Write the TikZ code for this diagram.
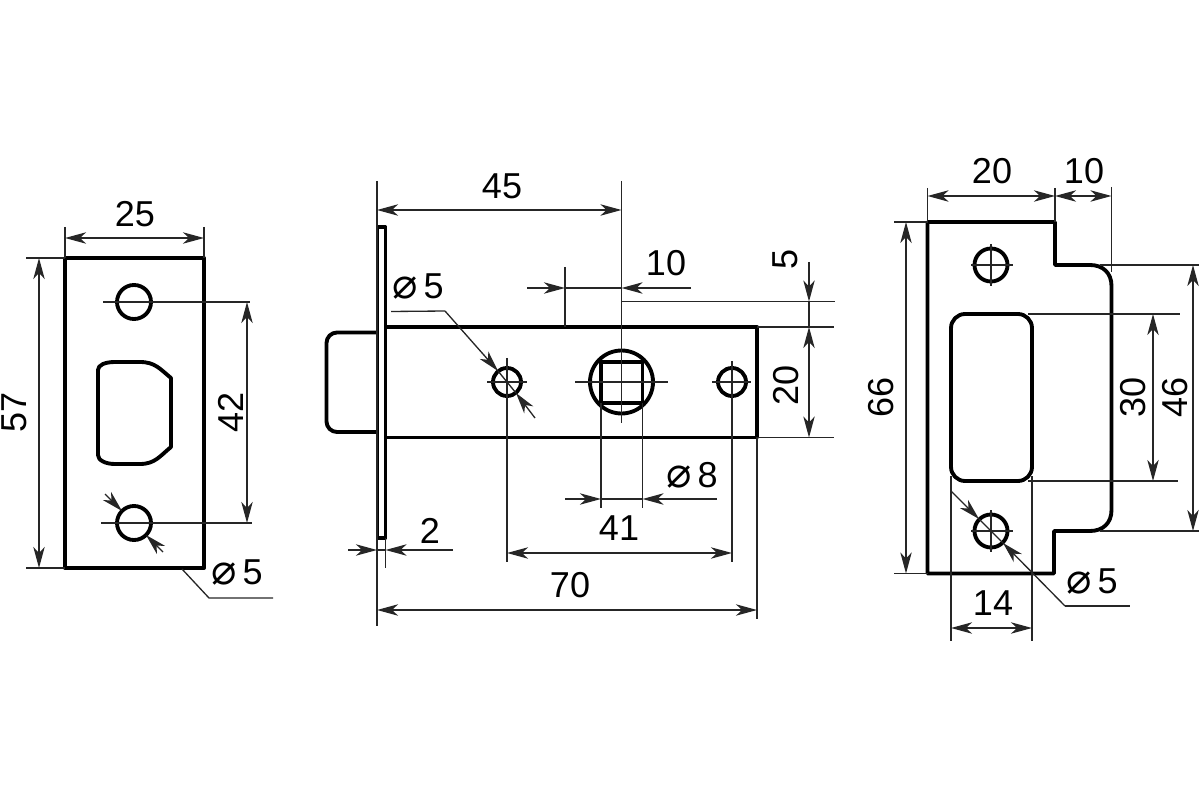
\documentclass[tikz,border=0pt]{standalone}
\usepackage{fontspec}
\setmainfont{Liberation Sans}
\newfontfamily\symfont{DejaVu Sans}
\usetikzlibrary{arrows.meta}
\newcommand{\dia}{{\fontsize{24}{24}\symfont\char"2300}}
\tikzset{
    outline/.style={black, line width=2.2pt, line join=round},
    thinline/.style={black!85, line width=0.75pt},
    dimline/.style={thinline, {Stealth[length=12pt,width=6.5pt,inset=3.5pt]}-{Stealth[length=12pt,width=6.5pt,inset=3.5pt]}},
    arrowline/.style={thinline, -{Stealth[length=12pt,width=6.5pt,inset=3.5pt]}},
    dimtext/.style={inner sep=0pt, font=\fontsize{20.5}{21}\selectfont},
    sidetext/.style={dimtext, rotate=90}
}
\begin{document}
\begin{tikzpicture}[x=0.02cm, y=-0.02cm]
    \useasboundingbox (0,0) rectangle (1200,800);
    % left plate
    \draw [outline] (65,258) rectangle (204,568);
    \draw [outline] (134,302) circle (17);
    \draw [outline] (134,523) circle (17);
    \draw [outline] (98,370) .. controls (98,365) and (105,362) .. (115,362) -- (140,362)
        .. controls (155,362) and (160,369) .. (171,378) -- (171,447)
        .. controls (160,456) and (155,464) .. (140,464) -- (115,464)
        .. controls (105,464) and (98,460) .. (98,455) -- cycle;
    \draw [thinline] (65,227) -- (65,258);
    \draw [thinline] (204,227) -- (204,258);
    \draw [dimline] (65,238) -- (204,238);
    \node [dimtext] (plateW) at (135,214) {25};
    \draw [thinline] (26,258) -- (65,258);
    \draw [thinline] (26,568) -- (65,568);
    \draw [dimline] (39,258) -- (39,568);
    \node [sidetext] (plateH) at (14,412) {57};
    \draw [thinline] (103,302) -- (250,302);
    \draw [thinline] (101,523) -- (252,523);
    \draw [dimline] (247,302) -- (247,523);
    \node [sidetext] (plateHoles) at (231,412) {42};
    \draw [arrowline] (105,494) -- (122,511);
    \draw [arrowline] (163,552) -- (146,535);
    \draw [thinline] (182,569) -- (209,598) -- (273,598);
    \node [dimtext] (plateDia) at (237,572) {\dia\,5};
    % latch body
    \draw [outline] (377.5,227) rectangle (385.5,538);
    \draw [outline] (385.5,327) -- (757,327) -- (757,437.5) -- (385.5,437.5);
    \draw [outline, rounded corners=6] (377,332.5) -- (326.5,332.5) -- (326.5,432) -- (377,432);
    \draw [outline] (507,382) circle (14);
    \draw [outline] (621.5,382) circle (31.5);
    \draw [outline] (601,362) rectangle (642.5,403);
    \draw [outline] (732,382) circle (14);
    % centre lines
    \draw [thinline] (487,382) -- (527,382);
    \draw [thinline] (575,382) -- (668,382);
    \draw [thinline] (712,382) -- (751,382);
    \draw [thinline] (507,358) -- (507,562);
    \draw [thinline] (621.5,181) -- (621.5,423);
    \draw [thinline] (732,361) -- (732,562);
    \draw [thinline] (601,403) -- (601,508);
    \draw [thinline] (642.5,403) -- (642.5,508);
    \draw [thinline] (377,181) -- (377,626);
    \draw [thinline] (385.5,538) -- (385.5,568);
    \draw [thinline] (757,437) -- (757,619);
    \draw [thinline] (565,267) -- (565,327);
    % dimensions
    \draw [dimline] (377,210) -- (621.5,210);
    \node [dimtext] (lockBack) at (502,186) {45};
    \draw [arrowline] (527,288) -- (565,288);
    \draw [arrowline] (691,288) -- (621.5,288);
    \node [dimtext] (lockTen) at (666,263) {10};
    \draw [thinline] (621.5,301.5) -- (835,301.5);
    \draw [thinline] (757,327) -- (834,327);
    \draw [thinline] (757,437.5) -- (834,437.5);
    \draw [arrowline] (809,262) -- (809,301.5);
    \draw [thinline] (809,301.5) -- (809,327);
    \node [sidetext] (lockFive) at (785,259) {5};
    \draw [dimline] (809,327) -- (809,437.5);
    \node [sidetext] (lockH) at (786,385) {20};
    \draw [thinline] (391,311.5) -- (445,311);
    \draw [arrowline] (445,311) -- (498,371);
    \draw [thinline] (498,371) -- (516,393);
    \draw [arrowline] (535,418) -- (516,393);
    \node [dimtext] (lockDia) at (418,286) {\dia\,5};
    \draw [arrowline] (565,499) -- (601,499);
    \draw [thinline] (601,499) -- (642.5,499);
    \draw [arrowline] (717,499) -- (642.5,499);
    \node [dimtext] (lockSquare) at (692,475) {\dia\,8};
    \draw [dimline] (507,553) -- (732,553);
    \node [dimtext] (lockHoles) at (619,528) {41};
    \draw [arrowline] (348,550) -- (377,550);
    \draw [thinline] (377,550) -- (385.5,550);
    \draw [arrowline] (453,550) -- (385.5,550);
    \node [dimtext] (lockFlange) at (430,531) {2};
    \draw [dimline] (377,610) -- (757,610);
    \node [dimtext] (lockLen) at (570,585) {70};
    \draw [thinline] (565,288) -- (621.5,288);
    % right plate
    \draw [outline] (927.5,222) -- (1055,222) -- (1055,265) -- (1090,265)
        .. controls (1103,265) and (1111.5,273) .. (1111.5,286) -- (1111.5,510)
        .. controls (1111.5,523) and (1103,531) .. (1090,531) -- (1054,531) -- (1054,573.5)
        -- (927.5,573.5) -- cycle;
    \draw [outline] (991,265) circle (16.5);
    \draw [outline] (991,531) circle (16.5);
    \draw [outline, rounded corners=8] (951,314) rectangle (1032,481);
    \draw [thinline] (971,265) -- (1013,265);
    \draw [thinline] (991,244) -- (991,286);
    \draw [thinline] (971,531) -- (1013,531);
    \draw [thinline] (991,510) -- (991,552);
    \draw [thinline] (927.5,188) -- (927.5,222);
    \draw [thinline] (1055,188) -- (1055,222);
    \draw [thinline] (1111.5,187) -- (1111.5,272);
    \draw [dimline] (927.5,196) -- (1055,196);
    \node [dimtext] (strikeW) at (992,171) {20};
    \draw [dimline] (1055,196) -- (1111.5,196);
    \node [dimtext] (strikeLip) at (1084,171) {10};
    \draw [thinline] (894,222) -- (927.5,222);
    \draw [thinline] (894,573.5) -- (927.5,573.5);
    \draw [dimline] (906,222) -- (906,573.5);
    \node [sidetext] (strikeH) at (881,397) {66};
    \draw [thinline] (1028,314) -- (1180,314);
    \draw [thinline] (1028,481) -- (1178,481);
    \draw [dimline] (1153,314) -- (1153,481);
    \node [sidetext] (strikeSlot) at (1133,397) {30};
    \draw [thinline] (1100,265) -- (1199,265);
    \draw [thinline] (1100,531) -- (1199,531);
    \draw [dimline] (1193,265) -- (1193,531);
    \node [sidetext] (strikeLipH) at (1175,397) {46};
    \draw [thinline] (951,476) -- (951,641);
    \draw [thinline] (1032,476) -- (1032,641);
    \draw [dimline] (951,628) -- (1032,628);
    \node [dimtext] (strikeSlotW) at (993,603) {14};
    \draw [thinline] (1065,606) -- (1130,606);
    \draw [thinline] (979,519) -- (1003,543);
    \draw [arrowline] (951.5,491.5) -- (979,519);
    \draw [arrowline] (1065,606) -- (1003,543);
    \node [dimtext] (strikeDia) at (1092,581) {\dia\,5};
\end{tikzpicture}
\end{document}
